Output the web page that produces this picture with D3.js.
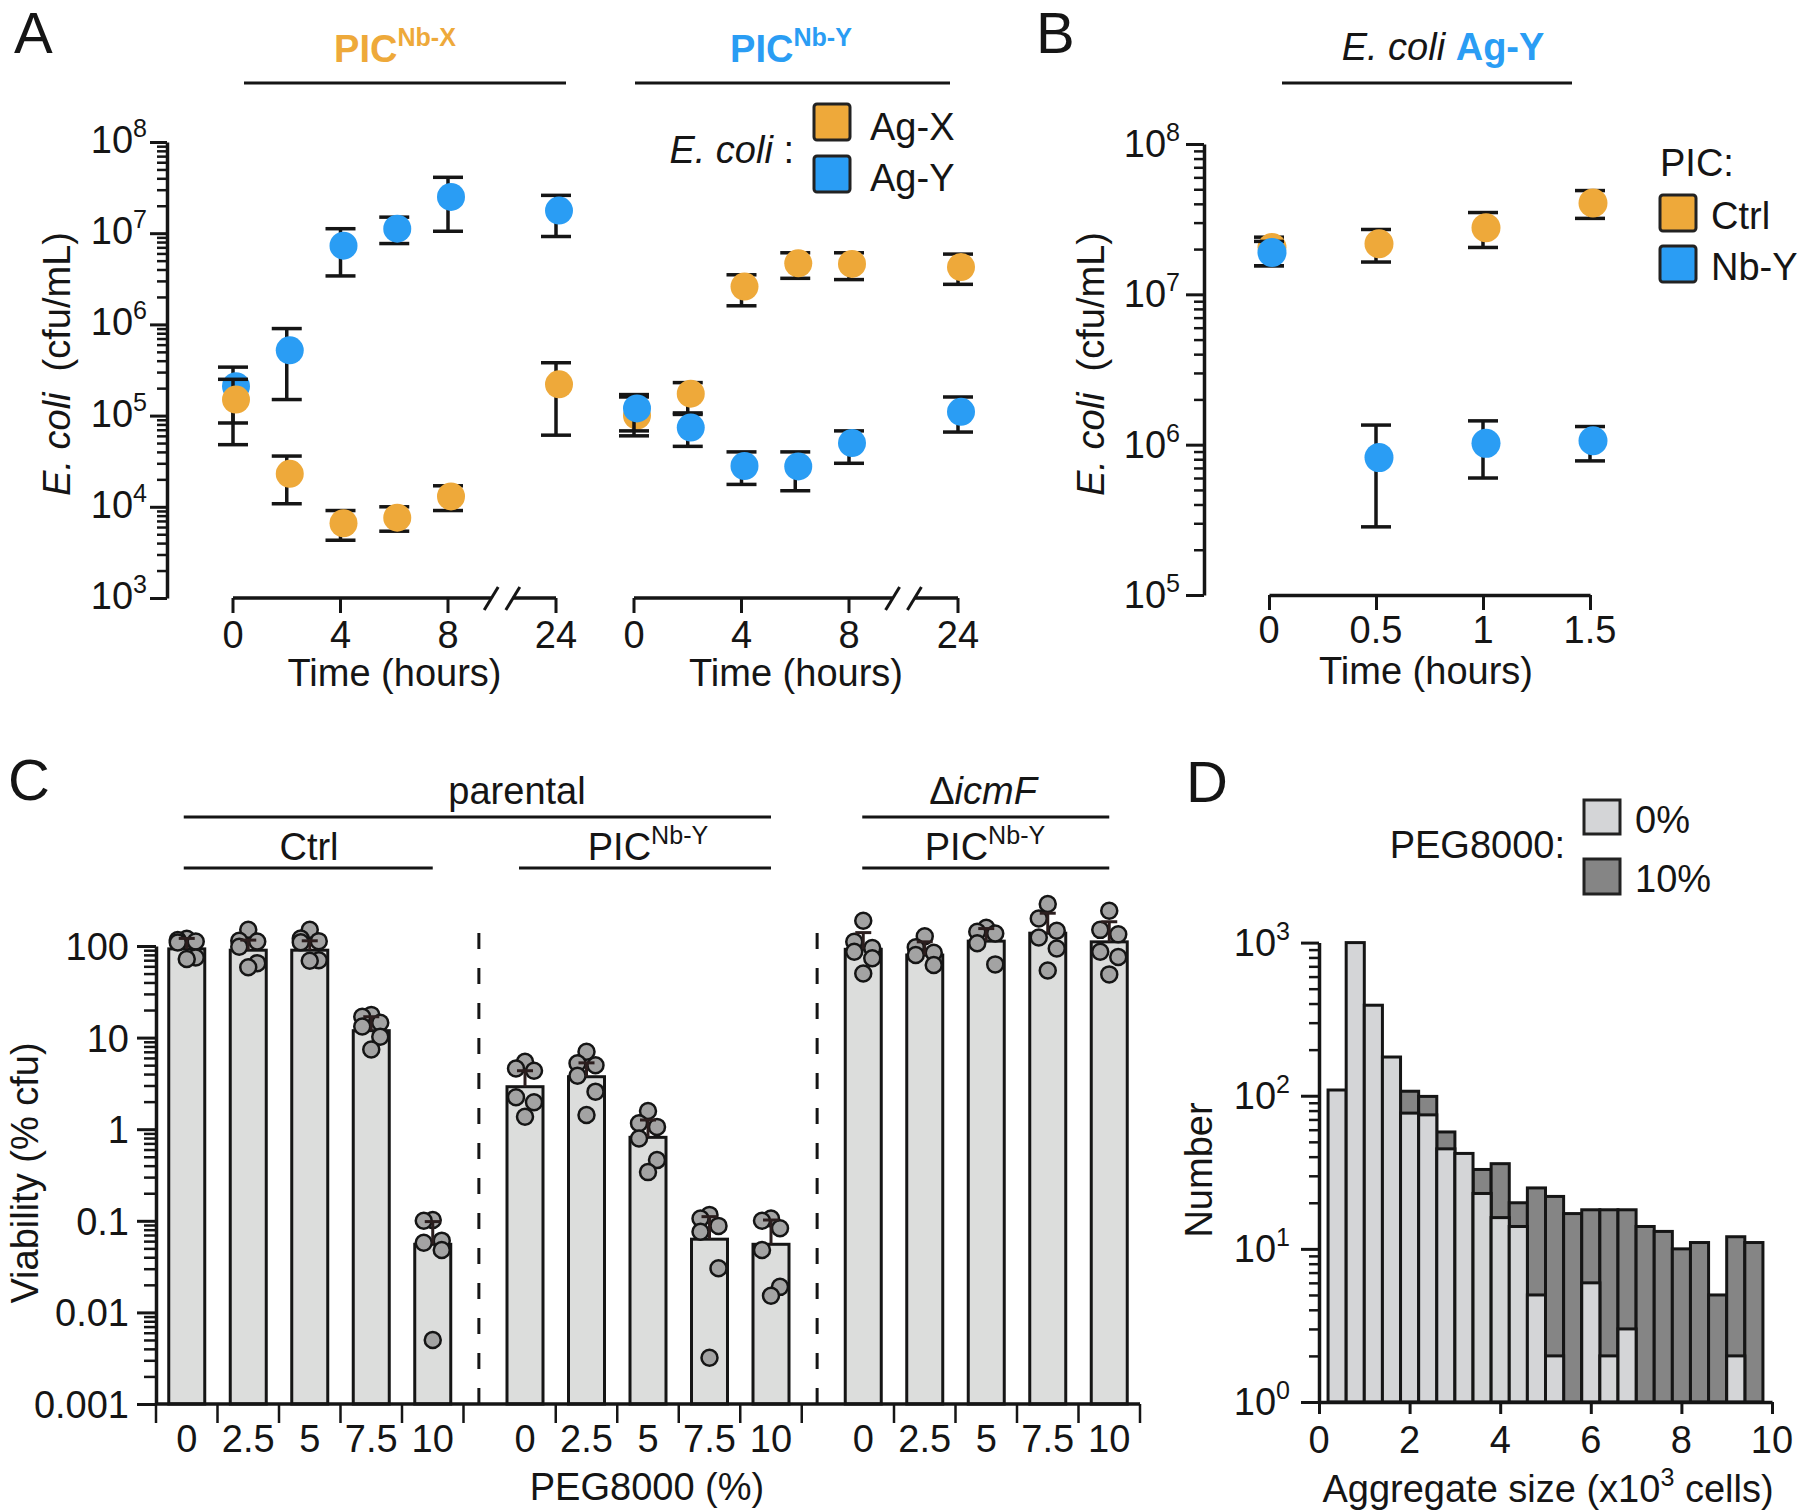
<!DOCTYPE html>
<html>
<head>
<meta charset="utf-8">
<script src="https://cdn.jsdelivr.net/npm/d3@7"></script>
<style>
body { margin: 0; background: #fff; }
svg text { font-family: "Liberation Sans", Arial, sans-serif; }
</style>
</head>
<body>
<svg id="fig" width="1800" height="1511"></svg>
<script>
// ---------- panel A : E. coli cfu/mL over time ----------
var timesA = [0, 2, 4, 6, 8, 24];
// PIC Nb-X
var nbX_agX    = [1.5e5, 2.3e4, 6.6e3, 7.6e3, 1.3e4, 2.2e5];
var nbX_agX_lo = [4.8e4, 1.08e4, 4.3e3, 5.4e3, 9.1e3, 6.1e4];
var nbX_agX_hi = [2.5e5, 3.6e4, 9.1e3, 1.0e4, 1.7e4, 3.8e5];
var nbX_agY    = [2.1e5, 5.2e5, 7.3e6, 1.12e7, 2.5e7, 1.77e7];
var nbX_agY_lo = [8.3e4, 1.5e5, 3.4e6, 7.7e6, 1.05e7, 9.2e6];
var nbX_agY_hi = [3.4e5, 9.0e5, 1.12e7, 1.5e7, 4.1e7, 2.6e7];
// PIC Nb-Y
var nbY_agX    = [1.0e5, 1.74e5, 2.6e6, 4.67e6, 4.6e6, 4.25e6];
var nbY_agX_lo = [6.0e4, 1.07e5, 1.6e6, 3.2e6, 3.1e6, 2.75e6];
var nbY_agX_hi = [1.6e5, 2.3e5, 3.5e6, 6.1e6, 6.1e6, 5.9e6];
var nbY_agY    = [1.2e5, 7.4e4, 2.8e4, 2.77e4, 5.0e4, 1.1e5];
var nbY_agY_lo = [6.8e4, 4.6e4, 1.76e4, 1.5e4, 3.0e4, 6.6e4];
var nbY_agY_hi = [1.7e5, 1.03e5, 4.0e4, 4.0e4, 6.8e4, 1.6e5];
var timeTicksA = [0, 4, 8, 24];

// ---------- panel B ----------
var timesB = [0, 0.5, 1, 1.5];
var ctrlB    = [2.05e7, 2.17e7, 2.77e7, 4.05e7];
var ctrlB_lo = [1.55e7, 1.64e7, 2.05e7, 3.2e7];
var ctrlB_hi = [2.4e7, 2.7e7, 3.5e7, 4.9e7];
var nbyB     = [1.9e7, 8.2e5, 1.02e6, 1.06e6];
var nbyB_lo  = [1.55e7, 2.84e5, 6.0e5, 7.8e5];
var nbyB_hi  = [2.25e7, 1.35e6, 1.44e6, 1.32e6];

// ---------- panel C : viability ----------
var pegLevels = ["0", "2.5", "5", "7.5", "10"];
var viabCtrl     = [93, 90, 90, 11.9, 0.0554];
var viabCtrlSem  = [121, 116, 114, 16.9, 0.098];
var viabNbY      = [2.91, 3.74, 0.815, 0.063, 0.0554];
var viabNbYSem   = [4.35, 5.3, 1.26, 0.111, 0.102];
var viabIcmF     = [92, 79.7, 113, 138, 111];
var viabIcmFSem  = [140, 111, 155, 228, 184];
var dotsCtrl = [
  [120, 116, 112, 109, 75, 72],
  [150, 114, 112, 98, 65, 58.5],
  [150, 121, 113, 110, 70, 69],
  [17.7, 16.9, 14.5, 13.2, 10.2, 7.4],
  [0.102, 0.1, 0.0607, 0.0577, 0.048, 0.005]
];
var dotsNbY = [
  [5.45, 4.6, 4.35, 2.23, 1.97, 1.37],
  [7.0, 5.24, 5.0, 3.84, 2.57, 1.43],
  [1.58, 1.16, 1.06, 0.79, 0.46, 0.34],
  [0.116, 0.106, 0.088, 0.076, 0.0303, 0.0032],
  [0.106, 0.1, 0.083, 0.048, 0.019, 0.0152]
];
var dotsIcmF = [
  [189, 111, 95, 86.7, 73.5, 50],
  [128, 97, 84.5, 79.7, 62],
  [158, 143, 137, 107, 63],
  [288, 200, 147, 124, 94, 54],
  [243, 150, 134, 86.7, 76, 49]
];

// ---------- panel D : aggregate size histogram ----------
var binCenters = [0.4, 0.8, 1.2, 1.6, 2.0, 2.4, 2.8, 3.2, 3.6, 4.0, 4.4, 4.8,
                  5.2, 5.6, 6.0, 6.4, 6.8, 7.2, 7.6, 8.0, 8.4, 8.8, 9.2, 9.6];
var count0  = [109, 1000, 390, 179, 77, 75, 45, 42, 23, 16, 14, 5,
               2, 0, 6, 2, 3, 0, 0, 0, 0, 0, 2, 0];
var count10 = [0, 0, 0, 0, 107, 99, 58, 0, 33, 36, 20, 25,
               22, 17, 18, 18, 18, 14, 13, 10, 11, 5, 12, 11];

// ---------- drawing ----------
var INK = "#151515";
var ORANGE = "#EEA93A";
var BLUE = "#2A9DF4";
var FS = 38;
var svg = d3.select("#fig");

function rich(g, x, y, parts, o) {
  o = o || {};
  var size = o.size || FS;
  var t = g.append("text").attr("x", x).attr("y", y)
    .attr("text-anchor", o.anchor || "start")
    .style("font-size", size + "px")
    .style("font-weight", o.bold ? "bold" : "normal")
    .style("fill", o.fill || INK);
  if (o.rotate) t.attr("transform", "rotate(-90," + x + "," + y + ")");
  var shift = 0;
  parts.forEach(function(p) {
    if (typeof p === "string") p = {t: p};
    var s = t.append("tspan").text(p.t);
    var want = p.sup ? -size * 0.42 : 0;
    if (want !== shift) { s.attr("dy", want - shift); shift = want; }
    if (p.sup) s.style("font-size", (size * 0.66) + "px");
    if (p.it) s.style("font-style", "italic");
    if (p.fill) s.style("fill", p.fill);
  });
  return t;
}

function hline(x1, x2, y, w) {
  svg.append("line").attr("x1", x1).attr("x2", x2).attr("y1", y).attr("y2", y)
    .attr("stroke", INK).attr("stroke-width", w || 3);
}

function styleAxis(sel, w) {
  sel.selectAll("line").attr("stroke", INK).attr("stroke-width", w);
  sel.select(".domain").attr("stroke", INK).attr("stroke-width", 3.5);
}

// log y axis with minor ticks; label(v) returns text parts
function logAxis(y, x0, lo, hi, opt) {
  var minor = [];
  for (var e = lo; e < hi; e++)
    for (var k = 2; k < 10; k++) minor.push(k * Math.pow(10, e));
  var majors = d3.range(lo, hi + 1).map(function(e) { return Math.pow(10, e); });
  svg.append("g").attr("transform", "translate(" + x0 + ",0)")
    .call(d3.axisLeft(y).tickValues(minor).tickSize(opt.minor).tickFormat(""))
    .call(function(s) { s.select(".domain").remove(); styleAxis(s, 2.5); });
  svg.append("g").attr("transform", "translate(" + x0 + ",0)")
    .call(d3.axisLeft(y).tickValues(majors).tickSize(opt.major).tickSizeOuter(0).tickFormat(""))
    .call(function(s) { styleAxis(s, 3); });
  majors.forEach(function(v, i) {
    rich(svg, x0 - opt.gap, y(v) + opt.dy, opt.label(v, lo + i), {anchor: "end"});
  });
}
function powLabel(v, e) { return ["10", {t: String(e), sup: true}]; }

// ===== Panel A =====
var yA = d3.scaleLog().domain([1e3, 1e8]).range([598, 142]);
var xA1 = d3.scaleLinear().domain([0, 8, 24]).range([233, 448, 556]);
var xA2 = d3.scaleLinear().domain([0, 8, 24]).range([634, 849, 958]);

logAxis(yA, 167, 3, 8, {major: 17, minor: 10, gap: 20, dy: 11, label: powLabel});

function brokenTimeAxis(x, y0) {
  var g = svg.append("g");
  var b1 = x(8) + 0.4 * (x(24) - x(8)), b2 = x(8) + 0.6 * (x(24) - x(8));
  g.append("path").attr("fill", "none").attr("stroke", INK).attr("stroke-width", 3.5)
    .attr("d", "M" + x(0) + "," + y0 + "H" + b1 + "M" + b2 + "," + y0 + "H" + x(24));
  [b1, b2].forEach(function(b) {
    g.append("line").attr("x1", b - 7).attr("x2", b + 7).attr("y1", y0 + 12).attr("y2", y0 - 11)
      .attr("stroke", INK).attr("stroke-width", 3);
  });
  g.selectAll("line.tk").data(timeTicksA).enter().append("line").attr("class", "tk")
    .attr("x1", x).attr("x2", x).attr("y1", y0).attr("y2", y0 + 15)
    .attr("stroke", INK).attr("stroke-width", 3);
  timeTicksA.forEach(function(t) { rich(g, x(t), 648, [String(t)], {anchor: "middle"}); });
  rich(g, (x(0) + x(24)) / 2 + 0, 686, ["Time (hours)"], {anchor: "middle"});
}
brokenTimeAxis(xA1, 598);
brokenTimeAxis(xA2, 598);

function errDots(x, y, times, mean, lo, hi, color, r, cap) {
  var g = svg.append("g");
  var idx = d3.range(mean.length);
  g.selectAll("line.v").data(idx).enter().append("line").attr("class", "v")
    .attr("x1", function(i) { return x(times[i]); }).attr("x2", function(i) { return x(times[i]); })
    .attr("y1", function(i) { return y(lo[i]); }).attr("y2", function(i) { return y(hi[i]); })
    .attr("stroke", INK).attr("stroke-width", 3.5);
  [lo, hi].forEach(function(arr) {
    g.selectAll(null).data(idx).enter().append("line")
      .attr("x1", function(i) { return x(times[i]) - cap; })
      .attr("x2", function(i) { return x(times[i]) + cap; })
      .attr("y1", function(i) { return y(arr[i]); }).attr("y2", function(i) { return y(arr[i]); })
      .attr("stroke", INK).attr("stroke-width", 3.5);
  });
  g.selectAll("circle").data(idx).enter().append("circle")
    .attr("cx", function(i) { return x(times[i]) + 3; })
    .attr("cy", function(i) { return y(mean[i]); })
    .attr("r", r).attr("fill", color);
}
errDots(xA1, yA, timesA, nbX_agY, nbX_agY_lo, nbX_agY_hi, BLUE, 14, 15);
errDots(xA1, yA, timesA, nbX_agX, nbX_agX_lo, nbX_agX_hi, ORANGE, 14, 15);
errDots(xA2, yA, timesA, nbY_agX, nbY_agX_lo, nbY_agX_hi, ORANGE, 14, 15);
errDots(xA2, yA, timesA, nbY_agY, nbY_agY_lo, nbY_agY_hi, BLUE, 14, 15);

rich(svg, 395, 62, ["PIC", {t: "Nb-X", sup: true}], {anchor: "middle", bold: true, fill: ORANGE});
rich(svg, 791, 62, ["PIC", {t: "Nb-Y", sup: true}], {anchor: "middle", bold: true, fill: BLUE});
hline(244, 566, 83);
hline(635, 950, 83);

rich(svg, 70, 364, [{t: "E. coli", it: true}, "\u00a0\u00a0(cfu/mL)"], {anchor: "middle", rotate: true});

function legendBox(x, y, color) {
  svg.append("rect").attr("x", x).attr("y", y).attr("width", 36).attr("height", 36)
    .attr("rx", 3).attr("fill", color).attr("stroke", "#222").attr("stroke-width", 3);
}
rich(svg, 794, 163, [{t: "E. coli", it: true}, " :"], {anchor: "end"});
legendBox(814, 104, ORANGE);
legendBox(814, 156, BLUE);
rich(svg, 870, 140, ["Ag-X"]);
rich(svg, 870, 191, ["Ag-Y"]);

rich(svg, 14, 53, ["A"], {size: 58});

// ===== Panel B =====
var yB = d3.scaleLog().domain([1e5, 1e8]).range([595, 144]);
var xB = d3.scaleLinear().domain([0, 1.5]).range([1269, 1590]);
logAxis(yB, 1204, 5, 8, {major: 18, minor: 10, gap: 24, dy: 13, label: powLabel});
svg.append("g").attr("transform", "translate(0,595)")
  .call(d3.axisBottom(xB).tickValues(timesB).tickSize(15).tickSizeOuter(0).tickFormat(""))
  .call(function(s) { styleAxis(s, 3); });
timesB.forEach(function(t) { rich(svg, xB(t), 643, [String(t)], {anchor: "middle"}); });
rich(svg, 1426, 684, ["Time (hours)"], {anchor: "middle"});
errDots(xB, yB, timesB, ctrlB, ctrlB_lo, ctrlB_hi, ORANGE, 14.5, 15);
errDots(xB, yB, timesB, nbyB, nbyB_lo, nbyB_hi, BLUE, 14.5, 15);
rich(svg, 1104, 364, [{t: "E. coli", it: true}, "\u00a0\u00a0(cfu/mL)"], {anchor: "middle", rotate: true});
rich(svg, 1443, 60, [{t: "E. coli ", it: true}, {t: "Ag-Y", fill: BLUE}], {anchor: "middle"})
  .select("tspan:nth-child(2)").style("font-weight", "bold");
hline(1282, 1572, 83);
rich(svg, 1660, 176, ["PIC:"]);
legendBox(1660, 195, ORANGE);
legendBox(1660, 246, BLUE);
rich(svg, 1711, 229, ["Ctrl"]);
rich(svg, 1711, 280, ["Nb-Y"]);
rich(svg, 1036, 53, ["B"], {size: 58});

// ===== Panel C =====
var yC = d3.scaleLog().domain([0.001, 100]).range([1404, 946]);
var xC = d3.scaleLinear().domain([-0.5, 15.5]).range([156, 1140]);
var groupsC = [
  {mean: viabCtrl, sem: viabCtrlSem, dots: dotsCtrl},
  {mean: viabNbY, sem: viabNbYSem, dots: dotsNbY},
  {mean: viabIcmF, sem: viabIcmFSem, dots: dotsIcmF}
];
var jitter = [0, -9, 9, -9, 9, 0];

logAxis(yC, 156, -3, 2, {major: 19, minor: 12, gap: 27, dy: 14,
  label: function(v) { return [d3.format("~g")(v)]; }});

var barW = 36;
groupsC.forEach(function(grp, g) {
  var gC = svg.append("g");
  var slot = function(i) { return g * 5.5 + i; };
  gC.selectAll("rect").data(grp.mean).enter().append("rect")
    .attr("x", function(d, i) { return xC(slot(i)) - barW / 2; })
    .attr("width", barW)
    .attr("y", function(d) { return yC(d); })
    .attr("height", function(d) { return 1404 - yC(d); })
    .attr("fill", "#dcdddc").attr("stroke", INK).attr("stroke-width", 3);
  grp.dots.forEach(function(vals, i) {
    gC.selectAll(null).data(vals).enter().append("circle")
      .attr("cx", function(d, j) { return xC(slot(i)) + jitter[j]; })
      .attr("cy", function(d) { return yC(d); })
      .attr("r", 8).attr("fill", "#a3a3a3").attr("stroke", INK).attr("stroke-width", 2.5);
  });
  gC.selectAll("line.e").data(grp.mean).enter().append("line").attr("class", "e")
    .attr("x1", function(d, i) { return xC(slot(i)); }).attr("x2", function(d, i) { return xC(slot(i)); })
    .attr("y1", function(d) { return yC(d); }).attr("y2", function(d, i) { return yC(grp.sem[i]); })
    .attr("stroke", "#2b1e1e").attr("stroke-width", 3);
  gC.selectAll("line.c").data(grp.sem).enter().append("line").attr("class", "c")
    .attr("x1", function(d, i) { return xC(slot(i)) - 8; }).attr("x2", function(d, i) { return xC(slot(i)) + 8; })
    .attr("y1", function(d) { return yC(d); }).attr("y2", function(d) { return yC(d); })
    .attr("stroke", "#2b1e1e").attr("stroke-width", 3);
  // separator ticks
  var seps = d3.range(g === 0 ? 0 : 1, 6).map(function(k) { return slot(k - 0.5); });
  gC.selectAll("line.s").data(seps).enter().append("line").attr("class", "s")
    .attr("x1", xC).attr("x2", xC).attr("y1", 1404).attr("y2", 1423)
    .attr("stroke", INK).attr("stroke-width", 2.5);
  pegLevels.forEach(function(p, i) { rich(gC, xC(slot(i)), 1452, [p], {anchor: "middle"}); });
});
hline(156, 1140, 1404, 3.5);
[4.75, 10.25].forEach(function(s) {
  svg.append("line").attr("x1", xC(s)).attr("x2", xC(s)).attr("y1", 1404).attr("y2", 922)
    .attr("stroke", INK).attr("stroke-width", 3).attr("stroke-dasharray", "16,19");
});
rich(svg, 647, 1500, ["PEG8000 (%)"], {anchor: "middle"});
rich(svg, 38, 1173, ["Viability (% cfu)"], {anchor: "middle", rotate: true});
rich(svg, 517, 804, ["parental"], {anchor: "middle"});
hline(xC(0) - 3, xC(9.5), 817);
rich(svg, 309, 860, ["Ctrl"], {anchor: "middle"});
hline(xC(0) - 3, xC(4), 868);
rich(svg, 648, 860, ["PIC", {t: "Nb-Y", sup: true}], {anchor: "middle"});
hline(xC(5.5) - 6, xC(9.5), 868);
rich(svg, 983, 804, ["\u0394", {t: "icmF", it: true}], {anchor: "middle"});
hline(xC(11) - 1, xC(15), 817);
rich(svg, 985, 860, ["PIC", {t: "Nb-Y", sup: true}], {anchor: "middle"});
hline(xC(11) - 1, xC(15), 868);
rich(svg, 8, 800, ["C"], {size: 58});

// ===== Panel D =====
var yD = d3.scaleLog().domain([1, 1000]).range([1402, 942.6]);
var xD = d3.scaleLinear().domain([0, 10]).range([1319, 1772]);
var binW = 0.4;
var gD = svg.append("g");
function histBars(counts, fill) {
  var idx = d3.range(counts.length).filter(function(i) { return counts[i] > 0; });
  gD.selectAll(null).data(idx).enter().append("rect")
    .attr("x", function(i) { return xD(binCenters[i] - binW / 2); })
    .attr("width", function(i) { return xD(binCenters[i] + binW / 2) - xD(binCenters[i] - binW / 2); })
    .attr("y", function(i) { return yD(counts[i]); })
    .attr("height", function(i) { return yD(1) - yD(counts[i]); })
    .attr("fill", fill).attr("stroke", INK).attr("stroke-width", 3);
}
histBars(count10, "#858585");
histBars(count0, "#d4d5d7");
logAxis(yD, 1319, 0, 3, {major: 18, minor: 10, gap: 29, dy: 13, label: powLabel});
svg.append("g").attr("transform", "translate(0,1402)")
  .call(d3.axisBottom(xD).tickValues([0, 2, 4, 6, 8, 10]).tickSize(12).tickSizeOuter(0).tickFormat(""))
  .call(function(s) { styleAxis(s, 3); });
[0, 2, 4, 6, 8, 10].forEach(function(t) { rich(svg, xD(t), 1453, [String(t)], {anchor: "middle"}); });
rich(svg, 1548, 1502, ["Aggregate size (x10", {t: "3", sup: true}, " cells)"], {anchor: "middle"});
rich(svg, 1212, 1170, ["Number"], {anchor: "middle", rotate: true});
rich(svg, 1565, 858, ["PEG8000:"], {anchor: "end"});
svg.append("rect").attr("x", 1584).attr("y", 800).attr("width", 36).attr("height", 34)
  .attr("fill", "#d4d5d7").attr("stroke", "#222").attr("stroke-width", 3);
svg.append("rect").attr("x", 1584).attr("y", 859).attr("width", 36).attr("height", 35)
  .attr("fill", "#858585").attr("stroke", "#222").attr("stroke-width", 3);
rich(svg, 1635, 833, ["0%"]);
rich(svg, 1635, 892, ["10%"]);
rich(svg, 1186, 802, ["D"], {size: 58});
</script>
</body>
</html>
